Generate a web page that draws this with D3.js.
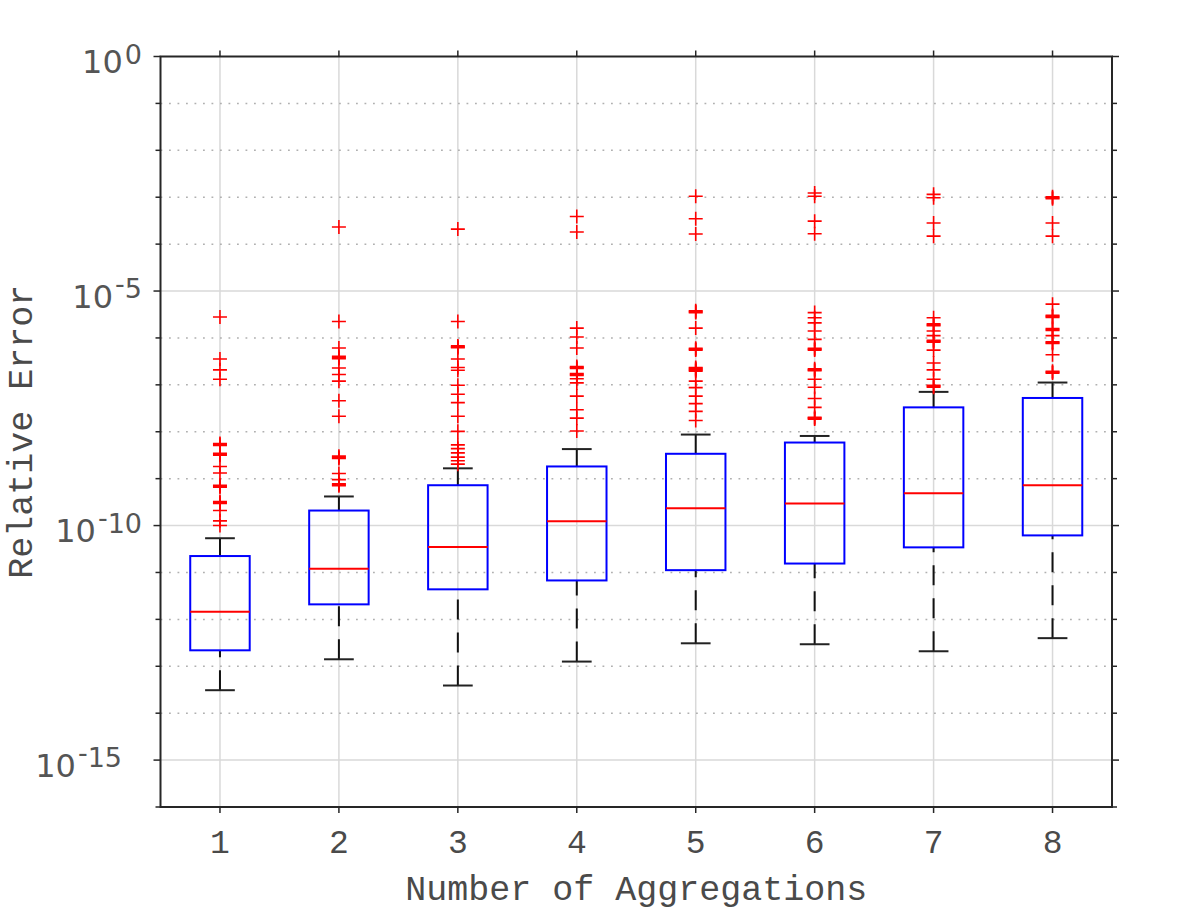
<!DOCTYPE html>
<html>
<head>
<meta charset="utf-8">
<script src="https://cdn.jsdelivr.net/npm/d3@7"></script>
<style>
  html, body { margin: 0; padding: 0; background: #fff; }
  svg { display: block; }
</style>
</head>
<body>
<svg id="chart"></svg>
<script>
// box statistics per number of aggregations
const categories = [1, 2, 3, 4, 5, 6, 7, 8];
const medians     = [1.45e-12, 1.20e-11, 3.47e-11, 1.23e-10, 2.34e-10, 2.95e-10, 4.90e-10, 7.24e-10];
const q1          = [2.19e-13, 2.09e-12, 4.37e-12, 6.76e-12, 1.12e-11, 1.55e-11, 3.43e-11, 6.17e-11];
const q3          = [2.24e-11, 2.09e-10, 7.24e-10, 1.82e-9, 3.39e-9, 5.89e-9, 3.31e-8, 5.25e-8];
const whiskerLow  = [3.09e-14, 1.41e-13, 3.89e-14, 1.26e-13, 3.09e-13, 2.95e-13, 2.09e-13, 3.98e-13];
const whiskerHigh = [5.37e-11, 4.17e-10, 1.66e-9, 4.27e-9, 8.71e-9, 8.13e-9, 7.08e-8, 1.12e-7];

// outliers (red +) per category
const outliers = [
  [2.79e-6, 3.55e-7, 2.09e-7, 1.32e-7, 5.62e-9, 5.37e-9, 5.13e-9, 3.47e-9, 3.31e-9, 3.16e-9,
   1.82e-9, 1.32e-9, 7.24e-10, 6.92e-10, 6.61e-10, 3.24e-10, 3.09e-10, 2.95e-10, 2.09e-10, 1.26e-10, 1.00e-10],
  [2.32e-4, 2.24e-6, 6.10e-7, 4.07e-7, 3.80e-7, 3.63e-7, 2.29e-7, 1.66e-7, 1.20e-7, 4.57e-8, 2.14e-8,
   3.02e-9, 2.82e-9, 2.69e-9, 1.29e-9, 9.55e-10, 7.76e-10, 7.41e-10, 7.08e-10],
  [2.09e-4, 2.24e-6, 6.76e-7, 6.46e-7, 6.17e-7, 3.55e-7, 2.34e-7, 2.04e-7, 9.77e-8, 6.31e-8, 4.17e-8,
   2.14e-8, 1.02e-8, 5.25e-9, 4.37e-9, 3.55e-9, 2.88e-9, 2.40e-9, 2.04e-9],
  [3.89e-4, 1.82e-4, 1.62e-6, 1.05e-6, 6.10e-7, 2.45e-7, 2.34e-7, 2.24e-7, 1.74e-7, 1.66e-7, 1.585e-7,
   1.35e-7, 1.10e-7, 5.75e-8, 2.95e-8, 1.95e-8, 1.035e-8],
  [1.05e-3, 3.47e-4, 1.64e-4, 3.80e-6, 3.63e-6, 3.47e-6, 1.62e-6, 6.03e-7, 5.75e-7, 5.50e-7, 2.34e-7,
   2.24e-7, 2.14e-7, 2.04e-7, 1.95e-7, 1.20e-7, 8.71e-8, 5.75e-8, 3.98e-8, 2.72e-8, 1.74e-8],
  [1.23e-3, 1.05e-3, 3.09e-4, 1.66e-4, 3.47e-6, 2.69e-6, 2.09e-6, 1.41e-6, 9.33e-7, 6.03e-7, 5.75e-7,
   5.50e-7, 2.19e-7, 2.09e-7, 1.995e-7, 1.32e-7, 8.91e-8, 5.13e-8, 3.31e-8, 2.04e-8, 1.95e-8, 1.86e-8],
  [1.15e-3, 9.77e-4, 2.82e-4, 1.48e-4, 2.69e-6, 2.00e-6, 1.91e-6, 1.82e-6, 1.41e-6, 1.12e-6, 8.91e-7,
   8.51e-7, 8.13e-7, 5.50e-7, 2.92e-7, 2.09e-7, 1.32e-7, 9.77e-8, 9.33e-8, 8.91e-8],
  [1.02e-3, 9.77e-4, 9.33e-4, 2.82e-4, 1.48e-4, 5.25e-6, 3.02e-6, 2.88e-6, 2.75e-6, 1.585e-6, 1.51e-6,
   1.445e-6, 1.12e-6, 8.32e-7, 7.94e-7, 7.59e-7, 4.37e-7, 1.95e-7, 1.86e-7, 1.78e-7]
];

// axis settings
const yDomain = [1e-16, 1];
const decades = [1e-1, 1e-2, 1e-3, 1e-4, 1e-5, 1e-6, 1e-7, 1e-8, 1e-9, 1e-10,
                 1e-11, 1e-12, 1e-13, 1e-14, 1e-15];
const yLabelValues = [1e0, 1e-5, 1e-10, 1e-15];
const yLabelExps = ['0', '5', '10', '15'];
const yLabelNeg = [false, true, true, true];
const xLabel = 'Number of Aggregations';
const yLabel = 'Relative Error';

const W = 1196, H = 911;
const plot = {left: 160.5, right: 1112, top: 56.5, bottom: 807};

const svg = d3.select('#chart').attr('width', W).attr('height', H);

const x = d3.scaleLinear().domain([0.5, 8.5]).range([plot.left, plot.right]);
const y = d3.scaleLog().domain(yDomain).range([plot.bottom, plot.top]);

const boxW = x(1.25) - x(0.75);
const capW = x(1.125) - x(0.875);
const monoFont = 'Liberation Mono, Courier New, monospace';
const textColor = '#4a4a4a';

// grid
const grid = svg.append('g');
grid.selectAll('line.vgrid')
    .data(categories)
    .join('line')
    .attr('x1', d => x(d)).attr('x2', d => x(d))
    .attr('y1', plot.top).attr('y2', plot.bottom)
    .attr('stroke', '#d9d9d9').attr('stroke-width', 1.5);
grid.selectAll('line.hgrid')
    .data(decades)
    .join('line')
    .attr('x1', plot.left).attr('x2', plot.right)
    .attr('y1', d => y(d)).attr('y2', d => y(d))
    .attr('stroke', d => yLabelValues.includes(d) ? '#d9d9d9' : '#b0b0b0')
    .attr('stroke-width', 1.5)
    .attr('stroke-dasharray', d => yLabelValues.includes(d) ? null : '1.8,6.7');

const boxes = svg.append('g');
const idx = d3.range(categories.length);

// whiskers, drawn from the cap towards the box so the dash starts at the cap
boxes.selectAll('line.wlo')
    .data(idx)
    .join('line')
    .attr('x1', i => x(categories[i])).attr('x2', i => x(categories[i]))
    .attr('y1', i => y(whiskerLow[i])).attr('y2', i => y(q1[i]))
    .attr('stroke', '#111').attr('stroke-width', 2)
    .attr('stroke-dasharray', '20,13');
boxes.selectAll('line.whi')
    .data(idx)
    .join('line')
    .attr('x1', i => x(categories[i])).attr('x2', i => x(categories[i]))
    .attr('y1', i => y(whiskerHigh[i])).attr('y2', i => y(q3[i]))
    .attr('stroke', '#111').attr('stroke-width', 2)
    .attr('stroke-dasharray', '20,13');

// whisker caps
[whiskerLow, whiskerHigh].forEach(arr => {
  boxes.append('g').selectAll('line')
      .data(idx)
      .join('line')
      .attr('x1', i => x(categories[i]) - capW / 2).attr('x2', i => x(categories[i]) + capW / 2)
      .attr('y1', i => y(arr[i])).attr('y2', i => y(arr[i]))
      .attr('stroke', '#222').attr('stroke-width', 2);
});

// boxes
boxes.selectAll('rect')
    .data(idx)
    .join('rect')
    .attr('x', i => x(categories[i]) - boxW / 2)
    .attr('width', boxW)
    .attr('y', i => y(q3[i]))
    .attr('height', i => y(q1[i]) - y(q3[i]))
    .attr('fill', 'none')
    .attr('stroke', '#0000ff').attr('stroke-width', 2);

// medians
boxes.selectAll('line.med')
    .data(idx)
    .join('line')
    .attr('x1', i => x(categories[i]) - boxW / 2).attr('x2', i => x(categories[i]) + boxW / 2)
    .attr('y1', i => y(medians[i])).attr('y2', i => y(medians[i]))
    .attr('stroke', '#ff0000').attr('stroke-width', 2);

// outliers
const pts = [];
outliers.forEach((list, i) => list.forEach(v => pts.push([categories[i], v])));
svg.append('g').selectAll('path')
    .data(pts)
    .join('path')
    .attr('transform', d => 'translate(' + x(d[0]) + ',' + y(d[1]) + ')')
    .attr('d', 'M-7,0H7M0,-7V7')
    .attr('stroke', '#ff0000').attr('stroke-width', 1.6)
    .attr('fill', 'none');

// frame and ticks
const axisColor = '#262626';
svg.append('rect')
    .attr('x', plot.left).attr('y', plot.top)
    .attr('width', plot.right - plot.left).attr('height', plot.bottom - plot.top)
    .attr('fill', 'none').attr('stroke', axisColor).attr('stroke-width', 2);

const ticks = svg.append('g').attr('stroke', axisColor).attr('stroke-width', 1.5);
const yTicks = decades.concat([1e0, 1e-16]);
ticks.selectAll('line.yl')
    .data(yTicks)
    .join('line')
    .attr('x1', d => plot.left - (yLabelValues.includes(d) ? 7 : 5)).attr('x2', plot.left)
    .attr('y1', d => y(d)).attr('y2', d => y(d));
ticks.selectAll('line.yr')
    .data(yTicks)
    .join('line')
    .attr('x1', plot.right).attr('x2', d => plot.right + (yLabelValues.includes(d) ? 7 : 5))
    .attr('y1', d => y(d)).attr('y2', d => y(d));
ticks.selectAll('line.xt')
    .data(categories)
    .join('line')
    .attr('x1', d => x(d)).attr('x2', d => x(d))
    .attr('y1', plot.top - 6).attr('y2', plot.top);
ticks.selectAll('line.xb')
    .data(categories)
    .join('line')
    .attr('x1', d => x(d)).attr('x2', d => x(d))
    .attr('y1', plot.bottom).attr('y2', plot.bottom + 6);

// x tick labels
svg.append('g').selectAll('text')
    .data(categories)
    .join('text')
    .attr('x', d => x(d))
    .attr('y', 853)
    .attr('text-anchor', 'middle')
    .attr('font-family', monoFont)
    .attr('font-size', 33)
    .attr('fill', textColor)
    .text(d => d);

// y tick labels (10 with superscript exponent, minus raised like the original)
const yl = svg.append('g').selectAll('text')
    .data(yLabelValues)
    .join('text')
    .attr('x', d => d === 1e-15 ? 122 : 142)
    .attr('y', d => y(d) + 16.5)
    .attr('text-anchor', 'end')
    .attr('font-family', 'DejaVu Sans, Verdana, sans-serif')
    .attr('fill', '#555');
yl.append('tspan').attr('font-size', 32).text('10');
yl.append('tspan')
    .attr('font-size', 27)
    .attr('dx', 2)
    .attr('dy', -15)
    .text((d, i) => yLabelNeg[i] ? '-' : '');
yl.append('tspan')
    .attr('font-size', 27)
    .attr('dx', (d, i) => yLabelNeg[i] ? 0 : 2)
    .attr('dy', (d, i) => yLabelNeg[i] ? 5.5 : -9.5)
    .text((d, i) => yLabelExps[i]);

// axis titles
svg.append('text')
    .attr('x', (plot.left + plot.right) / 2)
    .attr('y', 900)
    .attr('text-anchor', 'middle')
    .attr('font-family', monoFont)
    .attr('font-size', 35)
    .attr('fill', textColor)
    .text(xLabel);
svg.append('text')
    .attr('transform', 'translate(32,' + ((plot.top + plot.bottom) / 2) + ') rotate(-90)')
    .attr('text-anchor', 'middle')
    .attr('font-family', monoFont)
    .attr('font-size', 35)
    .attr('fill', textColor)
    .text(yLabel);
</script>
</body>
</html>
